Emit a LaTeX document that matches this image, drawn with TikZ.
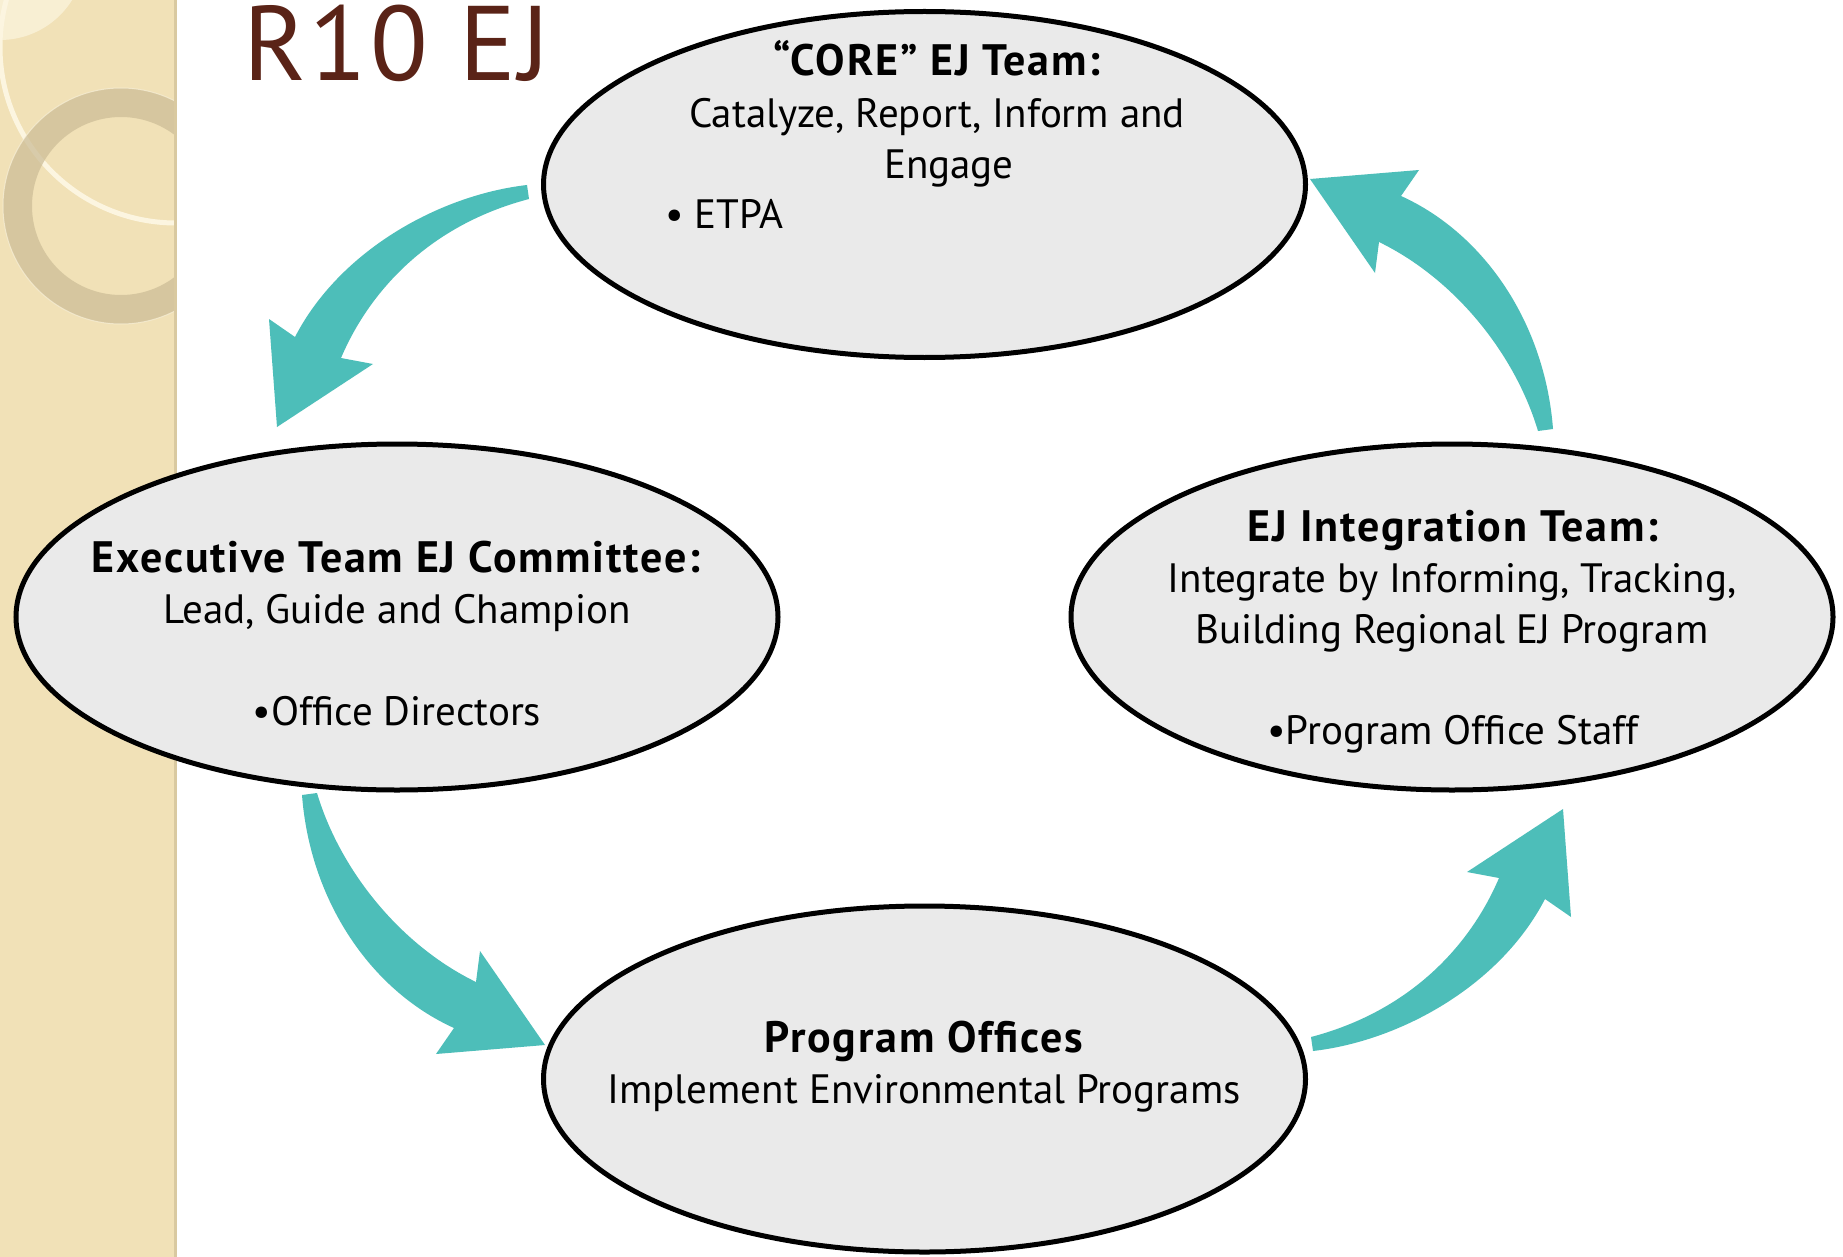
\documentclass[tikz,border=0pt]{standalone}
\usepackage{fontspec}
\setmainfont{PT Sans}
\newfontfamily\titlefont[LetterSpace=3]{PT Sans}
\newfontfamily\hdfont[LetterSpace=4]{PT Sans}
\usetikzlibrary{shapes.geometric}
\definecolor{flowteal}{HTML}{4DBEB9}
\definecolor{ellfill}{HTML}{EAEAEA}
\definecolor{striptan}{HTML}{F1E1B7}
\definecolor{stripedge}{HTML}{D9C9A0}
\definecolor{ringtan}{HTML}{CDBE98}
\definecolor{ringcream}{HTML}{FCF5E0}
\definecolor{titlebrown}{HTML}{5A2317}
\newcommand\arrowshapeA{(527,185) .. controls (440,195) and (340,250) .. (295,337)
  -- (269,319) -- (277,427) -- (373,364) -- (341,358)
  .. controls (370,290) and (430,225) .. (529,199) -- cycle}
\newcommand\arrowshapeB{(302,795) .. controls (310,900) and (370,990) .. (454,1028)
  -- (436,1054) -- (545,1045) -- (480,951) -- (476,982)
  .. controls (400,945) and (340,870) .. (317,793) -- cycle}
\begin{document}
\begin{tikzpicture}[x=1pt,y=-1pt,
  stage/.style={ellipse, draw=black, line width=5pt, fill=ellfill, minimum width=762pt, minimum height=346pt, inner sep=0pt},
  txt/.style={inner sep=0pt, anchor=base, font=\fontsize{41}{51}\selectfont},
  hd/.style={txt, font=\hdfont\fontsize{44}{51}\selectfont\bfseries},
  flow/.style={fill=flowteal, draw=none}]
\useasboundingbox (0,0) rectangle (1843,1257);
\fill[white] (0,0) rectangle (1843,1257);
% left decorative strip
\fill[striptan] (0,0) rectangle (177,1257);
\begin{scope}
  \clip (0,0) rectangle (175,1257);
  \fill[ringcream, opacity=0.7] (0,-45) circle (85pt);
  \draw[ringcream, line width=5pt] (176,47) circle (176pt);
  \fill[ringtan, opacity=0.75, even odd rule] (121,206) circle (118pt) (121,206) circle (89pt);
  \draw[ringcream, line width=1pt, opacity=0.6] (121,206) circle (118pt);
\end{scope}
\fill[stripedge] (174,0) rectangle (177,1257);
% title
\node (title) [inner sep=0pt, anchor=base west, text=titlebrown, font=\titlefont\fontsize{106}{106}\selectfont] at (243,81) {R10 EJ};
% arrows (tapered curved arrows between the stages)
\fill[flow] \arrowshapeA;
\fill[flow] \arrowshapeB;
\fill[flow, rotate around={180:(920,618)}] \arrowshapeA;
\fill[flow, rotate around={180:(927.5,612)}] \arrowshapeB;
% stages
\node (core) [stage] at (924.5,184.5) {};
\node (exec) [stage] at (397,617) {};
\node (integ) [stage] at (1452,617) {};
\node (prog) [stage] at (924.5,1079) {};
% texts
\node (coreh) [hd] at (937,76) {“CORE” EJ Team:};
\node (corel1) [txt] at (937,128) {Catalyze, Report, Inform and};
\node (corel2) [txt] at (949,179) {Engage};
\node (corel3) [txt, anchor=base west] at (665,229) {• ETPA};
\node (exech) [hd] at (396,572) {Executive Team EJ Committee:};
\node (execl1) [txt] at (397,623) {Lead, Guide and Champion};
\node (execl2) [txt] at (397,725) {•Office Directors};
\node (integh) [hd] at (1453,541) {EJ Integration Team:};
\node (integl1) [txt] at (1452,592) {Integrate by Informing, Tracking,};
\node (integl2) [txt] at (1452,643) {Building Regional EJ Program};
\node (integl3) [txt] at (1453,744) {•Program Office Staff};
\node (progh) [hd] at (924,1052) {Program Offices};
\node (progl1) [txt] at (924,1103) {Implement Environmental Programs};
\end{tikzpicture}
\end{document}
